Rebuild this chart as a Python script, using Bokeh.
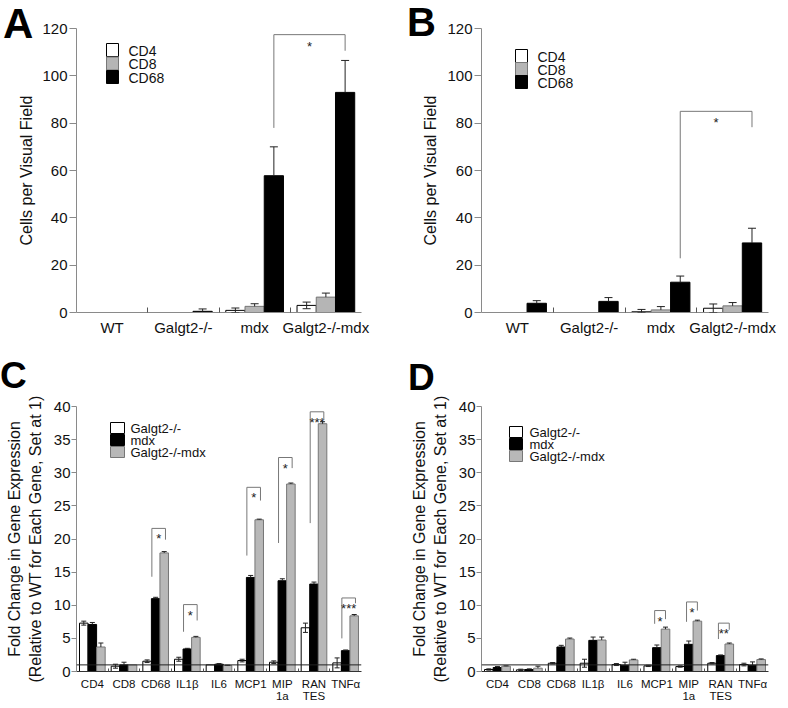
from bokeh.plotting import figure
from bokeh.models import (Range1d, FixedTicker, Span, LinearAxis, ColumnDataSource,
                          Whisker, TeeHead, GridBox, Div)
from bokeh.embed import file_html
from bokeh.resources import INLINE
from bokeh.core.properties import value

FONT = "Liberation Sans"

# ---------------- data: panels A and B (cells per visual field) ----------------
genotypes = ["WT", "Galgt2-/-", "mdx", "Galgt2-/-mdx"]
cell_types = ["CD4", "CD8", "CD68"]

a_cd4 = [0, 0, 0.9, 3.0]
a_cd4_err = [0, 0, 1.0, 1.4]
a_cd8 = [0, 0, 2.6, 6.5]
a_cd8_err = [0, 0, 1.1, 1.7]
a_cd68 = [0, 0.5, 57.8, 93.0]
a_cd68_err = [0, 1.0, 12.2, 13.5]

b_cd4 = [0, 0, 0.3, 1.8]
b_cd4_err = [0, 0, 1.0, 1.8]
b_cd8 = [0, 0, 1.1, 2.8]
b_cd8_err = [0, 0, 1.4, 1.4]
b_cd68 = [3.9, 4.7, 12.8, 29.4]
b_cd68_err = [1.1, 1.6, 2.6, 6.2]

# significance brackets A/B: between genotype groups, on the CD68 bars
a_sig_from = [2]
a_sig_to = [3]
a_sig_top = [117.4]
a_sig_from_end = [78.0]
a_sig_to_end = [110.6]
a_sig_text = ["*"]

b_sig_from = [2]
b_sig_to = [3]
b_sig_top = [85.0]
b_sig_from_end = [22.9]
b_sig_to_end = [78.3]
b_sig_text = ["*"]

# ---------------- data: panels C and D (fold change) ----------------
genes = ["CD4", "CD8", "CD68", "IL1\u03b2", "IL6", "MCP1", "MIP\n1a", "RAN\nTES", "TNF\u03b1"]
expr_groups = ["Galgt2-/-", "mdx", "Galgt2-/-mdx"]

c_galgt2 = [7.3, 0.8, 1.55, 1.85, 1.0, 1.65, 1.4, 6.6, 1.3]
c_galgt2_err = [0.3, 0.3, 0.2, 0.3, 0.0, 0.2, 0.2, 0.7, 0.75]
c_mdx = [7.1, 1.0, 11.0, 3.4, 1.1, 14.2, 13.7, 13.2, 3.15]
c_mdx_err = [0.3, 0.4, 0.2, 0.1, 0.1, 0.3, 0.3, 0.3, 0.1]
c_dko = [3.7, 1.0, 17.9, 5.15, 0.9, 22.9, 28.3, 37.4, 8.4]
c_dko_err = [0.6, 0.0, 0.2, 0.15, 0.05, 0.1, 0.15, 0.3, 0.2]

c_sig_gene = [2, 3, 5, 6, 7, 8]
c_sig_top = [21.6, 10.1, 27.8, 32.3, 39.2, 11.1]
c_sig_from_end = [14.3, 6.0, 17.5, 19.4, 22.4, 5.0]
c_sig_to_end = [19.9, 7.7, 25.8, 30.7, 38.1, 10.3]
c_sig_text = ["*", "*", "*", "*", "***", "***"]

d_galgt2 = [0.3, 0.25, 1.25, 1.25, 1.05, 0.85, 0.75, 1.25, 1.05]
d_galgt2_err = [0.1, 0.1, 0.1, 0.6, 0.15, 0.1, 0.1, 0.1, 0.2]
d_mdx = [0.6, 0.3, 3.7, 4.7, 0.95, 3.6, 4.1, 2.4, 0.95]
d_mdx_err = [0.15, 0.1, 0.25, 0.5, 0.45, 0.4, 0.5, 0.1, 0.5]
d_dko = [0.8, 0.5, 4.9, 4.75, 1.75, 6.4, 7.6, 4.15, 1.8]
d_dko_err = [0.05, 0.3, 0.15, 0.45, 0.1, 0.3, 0.15, 0.15, 0.1]

d_sig_gene = [5, 6, 7]
d_sig_top = [9.2, 10.5, 7.3]
d_sig_from_end = [7.2, 7.5, 4.9]
d_sig_to_end = [7.9, 9.2, 6.3]
d_sig_text = ["*", "*", "**"]

ab_ticks = [0, 20, 40, 60, 80, 100, 120]
cd_ticks = [0, 5, 10, 15, 20, 25, 30, 35, 40]

BW = 0.27
AXIS_GREY = "#8a8a8a"


class Panel:
    def __init__(self, W, H, left, right, top, bottom, n, ymax, yticks):
        self.left, self.top, self.n, self.ymax = left, top, n, ymax
        self.fw = W - left - right
        self.fh = H - top - bottom
        p = figure(width=W, height=H, x_range=Range1d(-0.5, n - 0.5), y_range=Range1d(0, ymax),
                   output_backend="svg", toolbar_location=None, tools="",
                   min_border_left=left, min_border_right=right,
                   min_border_top=top, min_border_bottom=bottom,
                   outline_line_color=None, background_fill_color="white",
                   border_fill_color="white")
        p.xgrid.visible = False
        p.ygrid.visible = False
        ya = p.yaxis[0]
        ya.ticker = FixedTicker(ticks=yticks)
        ya.axis_line_color = AXIS_GREY
        ya.major_tick_line_color = AXIS_GREY
        ya.minor_tick_line_color = None
        ya.major_tick_in = 0
        ya.major_label_text_font = FONT
        ya.major_label_text_font_size = "15px"
        ya.major_label_text_color = "#111111"
        ya.axis_label_text_font = FONT
        ya.axis_label_text_font_style = "normal"
        ya.axis_label_text_font_size = "16px"
        ya.axis_label_text_color = "#111111"
        self.p = p

    # frame-relative pixel offsets (from frame left / frame top) -> data coordinates
    def dx(self, px):
        return -0.5 + px / self.fw * self.n

    def dy(self, py):
        return self.ymax * (1 - py / self.fh)


def style_xaxis(pn, labels, font_size, standoff, standoff2, tick_in, line_color):
    p = pn.p
    n = len(labels)
    first = [lab.split("\n")[0] for lab in labels]
    second = {i: lab.split("\n")[1] for i, lab in enumerate(labels) if "\n" in lab}
    xa = p.xaxis[0]
    xa.ticker = FixedTicker(ticks=list(range(n)), minor_ticks=[i + 0.5 for i in range(n - 1)])
    xa.major_label_overrides = {i: lab for i, lab in enumerate(first)}
    xa.major_tick_line_color = None
    xa.major_tick_in = 0
    xa.major_tick_out = 0
    xa.minor_tick_in = tick_in
    xa.minor_tick_out = 0
    xa.minor_tick_line_color = "#555555"
    xa.axis_line_color = line_color
    xa.major_label_standoff = standoff
    xa.major_label_text_font = FONT
    xa.major_label_text_font_size = font_size
    xa.major_label_text_color = "#111111"
    if second:
        ax2 = LinearAxis(ticker=FixedTicker(ticks=list(second.keys())),
                         major_label_overrides=second,
                         axis_line_color=None, major_tick_line_color=None,
                         minor_tick_line_color=None, major_tick_in=0, major_tick_out=0,
                         major_label_standoff=standoff2, major_label_text_font=FONT,
                         major_label_text_font_size=font_size,
                         major_label_text_color="#111111")
        p.add_layout(ax2, "below")


def draw_bars(pn, series, errs, fills, lines, two_sided, cap):
    p = pn.p
    for k, (vals, ers) in enumerate(zip(series, errs)):
        xs = [i + (k - 1) * BW for i in range(len(vals))]
        p.vbar(x=xs, top=vals, width=BW, bottom=0, fill_color=fills[k],
               line_color=lines[k], line_width=1)
        base = [x for x, e in zip(xs, ers) if e > 0]
        vv = [v for v, e in zip(vals, ers) if e > 0]
        ee = [e for e in ers if e > 0]
        if not base:
            continue
        upper = [v + e for v, e in zip(vv, ee)]
        lower = [max(v - e, 0) for v, e in zip(vv, ee)] if two_sided[k] else vv
        src = ColumnDataSource(dict(base=base, upper=upper, lower=lower))
        w = Whisker(source=src, base="base", upper="upper", lower="lower", dimension="height",
                    line_color="#222222", line_width=1, level="overlay",
                    upper_head=TeeHead(size=cap, line_color="#222222", line_width=1),
                    lower_head=(TeeHead(size=cap, line_color="#222222", line_width=1)
                                if two_sided[k] else None))
        p.add_layout(w)


def draw_brackets(pn, xl, xr, tops, lends, rends, texts, font_size, y_off):
    p = pn.p
    xs = [[a, a, b, b] for a, b in zip(xl, xr)]
    ys = [[le, t, t, re] for le, t, re in zip(lends, tops, rends)]
    p.multi_line(xs=xs, ys=ys, line_color="#777777", line_width=1)
    p.text(x=[(a + b) / 2 for a, b in zip(xl, xr)], y=tops, text=texts,
           text_font=value(FONT), text_font_size=font_size, text_align="center",
           text_baseline="top", y_offset=y_off, text_color="#222222")


def draw_legend(pn, names, fills, lines, left, top, pitch, sw, sh, gap, font_size):
    p = pn.p
    cys = [top + sh / 2 + k * pitch for k in range(len(names))]
    p.rect(x=[pn.dx(left + sw / 2)] * len(names), y=[pn.dy(c) for c in cys],
           width=sw, height=sh, width_units="screen", height_units="screen",
           fill_color=fills, line_color=lines, line_width=1)
    p.text(x=[pn.dx(left + sw + gap)] * len(names), y=[pn.dy(c + 0.5) for c in cys],
           text=names, text_font=value(FONT), text_font_size=font_size,
           text_baseline="middle", text_align="left", text_color="#111111")


def letter(ch, size, lh, mt, ml):
    return Div(text=ch, width=46, height=lh, margin=(mt, 0, 0, ml),
               styles={"font-family": FONT, "font-size": f"{size}px", "font-weight": "bold",
                       "line-height": f"{lh}px", "color": "black",
                       "position": "relative", "z-index": "10"})


AB_FILLS = ["white", "#b5b5b5", "black"]
AB_LINES = ["black", "#777777", "black"]
CD_FILLS = ["white", "black", "#b8b8b8"]
CD_LINES = ["black", "black", "#777777"]

# shared borders (frames are aligned across each grid row / column)
L1, R1, L2, R2 = 76, 33, 87, 20
T1, B1, T2, B2 = 28, 28, 66, 35

# ---------------- Panel A ----------------
A = Panel(394, 340, L1, R1, T1, B1, 4, 120, ab_ticks)
A.p.yaxis[0].axis_label = "Cells per Visual Field"
A.p.yaxis[0].major_tick_out = 7
A.p.yaxis[0].major_label_standoff = 2
A.p.yaxis[0].axis_label_standoff = 4
style_xaxis(A, genotypes, "15px", 6, 0, 5, AXIS_GREY)
draw_bars(A, [a_cd4, a_cd8, a_cd68], [a_cd4_err, a_cd8_err, a_cd68_err],
          AB_FILLS, AB_LINES, [True, False, False], 8)
draw_brackets(A, [g + BW for g in a_sig_from], [g + BW for g in a_sig_to],
              a_sig_top, a_sig_from_end, a_sig_to_end, a_sig_text, "13px", 4)
draw_legend(A, cell_types, AB_FILLS, AB_LINES, 30, 15, 13.5, 12, 13, 10, "14px")

# ---------------- Panel B ----------------
B = Panel(394, 340, L2, R2, T1, B1, 4, 120, ab_ticks)
B.p.yaxis[0].axis_label = "Cells per Visual Field"
B.p.yaxis[0].major_tick_out = 7
B.p.yaxis[0].major_label_standoff = 2
B.p.yaxis[0].axis_label_standoff = 5
style_xaxis(B, genotypes, "15px", 6, 0, 5, AXIS_GREY)
draw_bars(B, [b_cd4, b_cd8, b_cd68], [b_cd4_err, b_cd8_err, b_cd68_err],
          AB_FILLS, AB_LINES, [True, False, False], 8)
draw_brackets(B, [g + BW for g in b_sig_from], [g + BW for g in b_sig_to],
              b_sig_top, b_sig_from_end, b_sig_to_end, b_sig_text, "13px", 4)
draw_legend(B, cell_types, AB_FILLS, AB_LINES, 34, 21, 13, 12, 13, 10, "14px")

# ---------------- Panel C ----------------
FC_LABEL = "Fold Change in Gene Expression\n(Relative to WT for Each Gene, Set at 1)"
C = Panel(394, 366, L1, R1, T2, B2, 9, 40, cd_ticks)
C.p.yaxis[0].axis_label = FC_LABEL
C.p.yaxis[0].major_tick_out = 5
C.p.yaxis[0].major_label_standoff = 1
C.p.yaxis[0].axis_label_standoff = 7
style_xaxis(C, genes, "11.5px", 6, -3, 3, "#333333")
C.p.add_layout(Span(location=1, dimension="width", line_color="#222222", line_width=1))
draw_bars(C, [c_galgt2, c_mdx, c_dko], [c_galgt2_err, c_mdx_err, c_dko_err],
          CD_FILLS, CD_LINES, [True, False, False], 5)
draw_brackets(C, [g - 0.12 for g in c_sig_gene], [g + BW + 0.04 for g in c_sig_gene],
              c_sig_top, c_sig_from_end, c_sig_to_end, c_sig_text, "13px", 3)
draw_legend(C, expr_groups, CD_FILLS, CD_LINES, 34, 16, 12, 14, 11, 6, "13px")

# ---------------- Panel D ----------------
D = Panel(394, 366, L2, R2, T2, B2, 9, 40, cd_ticks)
D.p.yaxis[0].axis_label = FC_LABEL
D.p.yaxis[0].major_tick_out = 5
D.p.yaxis[0].major_label_standoff = 1
D.p.yaxis[0].axis_label_standoff = 7
style_xaxis(D, genes, "11.5px", 6, -3, 3, "#333333")
D.p.add_layout(Span(location=1, dimension="width", line_color="#222222", line_width=1))
draw_bars(D, [d_galgt2, d_mdx, d_dko], [d_galgt2_err, d_mdx_err, d_dko_err],
          CD_FILLS, CD_LINES, [True, False, False], 5)
draw_brackets(D, [g - 0.07 for g in d_sig_gene], [g + BW for g in d_sig_gene],
              d_sig_top, d_sig_from_end, d_sig_to_end, d_sig_text, "13px", 3)
draw_legend(D, expr_groups, CD_FILLS, CD_LINES, 28, 20, 12, 13, 11, 7, "13px")

layout = GridBox(children=[
    (A.p, 0, 0), (B.p, 0, 1), (C.p, 1, 0), (D.p, 1, 1),
    (letter("A", 42, 47, 0, 3), 0, 0),
    (letter("B", 40, 45, 0, 13), 0, 1),
    (letter("C", 37, 37, 17, 0), 1, 0),
    (letter("D", 37, 37, 19, 14), 1, 1),
])
open("out.html", "w").write(file_html(layout, INLINE))
